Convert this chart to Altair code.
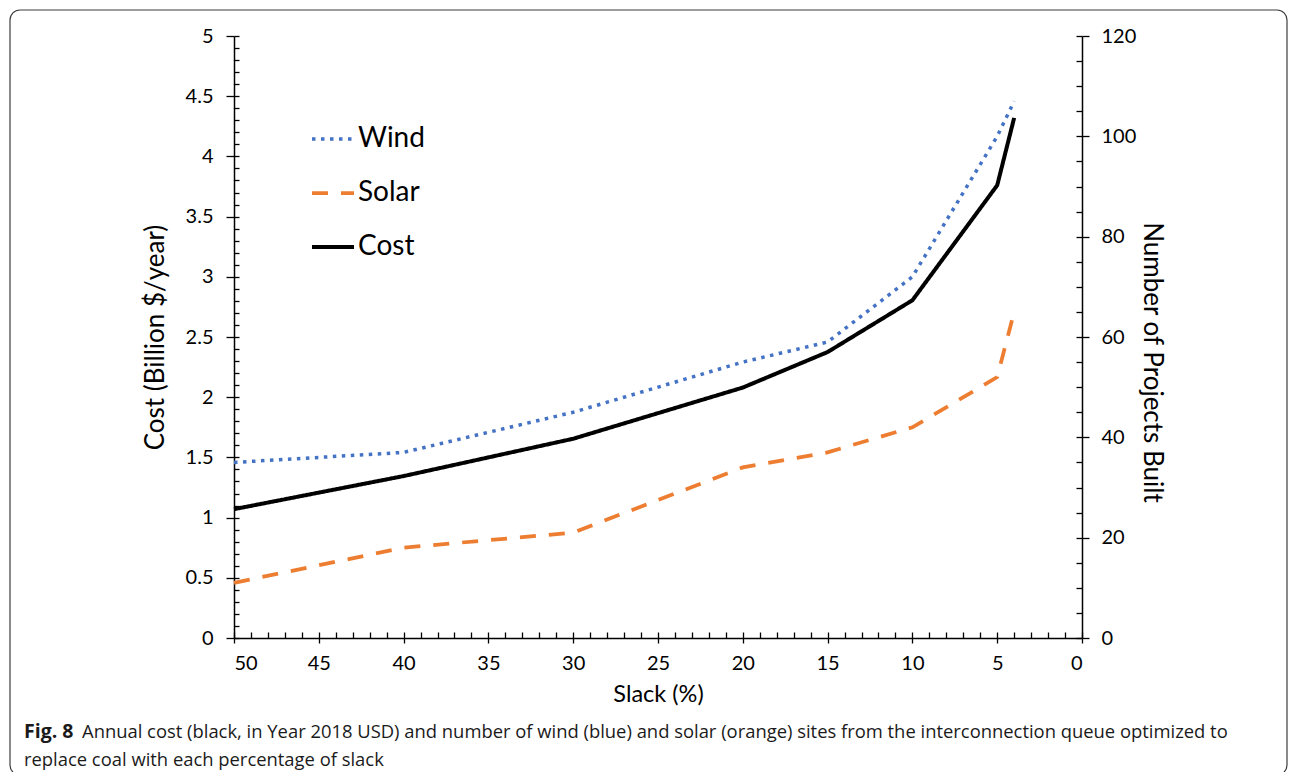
import altair as alt
import pandas as pd

# values
slack = [50, 40, 30, 20, 15, 10, 5, 4]
cost = [1.07, 1.345, 1.655, 2.08, 2.375, 2.805, 3.76, 4.32]   # billion $/year
wind = [35, 37, 45, 55, 59, 72, 100, 107]                      # projects
solar = [11, 18, 21, 34, 37, 42, 52, 65]                       # projects

series_names = ["Wind", "Solar", "Cost"]
series_colors = ["#4472C4", "#ED7D31", "#000000"]
series_dashes = [[3.5, 5.5], [16, 13], [1, 0]]
series_widths = [3.5, 4, 2.5]

slack_ticks = [0, 5, 10, 15, 20, 25, 30, 35, 40, 45, 50]
cost_ticks = [0, 0.5, 1, 1.5, 2, 2.5, 3, 3.5, 4, 4.5, 5]
proj_ticks = [0, 20, 40, 60, 80, 100, 120]
slack_minor = list(range(0, 51))
cost_minor = [round(i * 0.1, 1) for i in range(51)]
proj_minor = list(range(0, 121, 5))

caption_lead = "Fig. 8"
caption_line1 = ("Annual cost (black, in Year 2018 USD) and number of wind (blue) and solar "
                 "(orange) sites from the interconnection queue optimized to")
caption_line2 = "replace coal with each percentage of slack"

FONT = "Lato"
CAP_FONT = "Open Sans"
W, H = 848, 602

rows = []
for i, s in enumerate(slack):
    rows.append({"slack": s, "series": "Wind", "value": wind[i]})
    rows.append({"slack": s, "series": "Solar", "value": solar[i]})
    rows.append({"slack": s, "series": "Cost", "value": cost[i]})
df = pd.DataFrame(rows)
one = pd.DataFrame({"k": [0]})

x_scale = alt.Scale(domain=[0, 50], reverse=True, nice=False, zero=False)
cost_scale = alt.Scale(domain=[0, 5], nice=False)
proj_scale = alt.Scale(domain=[0, 120], nice=False)

legend = alt.Legend(orient="none", legendX=76, legendY=80, title=None,
                    symbolType="stroke", symbolSize=1764, symbolStrokeWidth=3.5,
                    labelFont=FONT, labelFontSize=28, labelColor="black",
                    labelOffset=2, rowPadding=17, padding=0)
color = alt.Color("series:N", scale=alt.Scale(domain=series_names, range=series_colors), legend=legend)
dash = alt.StrokeDash("series:N", scale=alt.Scale(domain=series_names, range=series_dashes), legend=legend)
stroke_w = alt.StrokeWidth("series:N", scale=alt.Scale(domain=series_names, range=series_widths), legend=None)

tick_style = dict(tickColor="black", tickWidth=1.3, grid=False, labelFont=FONT,
                  labelColor="black", titleFont=FONT, titleColor="black",
                  titleFontWeight="normal")
inner_style = dict(tickColor="black", tickWidth=1.3, grid=False, domain=False,
                   labels=False, title=None)

# Cost on the left axis, with the x axis labels
cost_line = alt.Chart(df).transform_filter(alt.datum.series == "Cost").mark_line(
    strokeCap="butt").encode(
    x=alt.X("slack:Q", scale=x_scale,
            axis=alt.Axis(orient="bottom", values=slack_ticks, tickSize=5, labelFontSize=20,
                          labelPadding=10, domainColor="black", domainWidth=1.5,
                          title="Slack (%)", titleFontSize=23.5, titleY=56,
                          titleBaseline="middle", **tick_style)),
    y=alt.Y("value:Q", scale=cost_scale,
            axis=alt.Axis(orient="left", values=cost_ticks, format="~g", tickSize=8,
                          labelFontSize=20, labelPadding=13, domainColor="black",
                          domainWidth=1.5, title="Cost (Billion $/year)", titleFontSize=26,
                          titleX=-79, titleBaseline="middle", **tick_style)),
    color=color, strokeDash=dash, strokeWidth=stroke_w,
)

# Wind and solar project counts on the right axis
proj_lines = alt.Chart(df).transform_filter(alt.datum.series != "Cost").mark_line(
    strokeCap="butt").encode(
    x=alt.X("slack:Q", scale=x_scale, axis=None),
    y=alt.Y("value:Q", scale=proj_scale,
            axis=alt.Axis(orient="right", values=proj_ticks, tickSize=7, labelFontSize=20,
                          labelPadding=12, domainColor="black", domainWidth=1.5,
                          title="Number of Projects Built", titleFontSize=26, titleAngle=90,
                          titleX=69, titleY=326, titleBaseline="middle", **tick_style)),
    color=color, strokeDash=dash, strokeWidth=stroke_w,
)

# inner ticks (left and bottom)
inner_left = alt.Chart(df).transform_filter(alt.datum.series == "Cost").mark_line(
    strokeOpacity=0).encode(
    x=alt.X("slack:Q", scale=x_scale,
            axis=alt.Axis(orient="bottom", values=slack_minor, tickSize=6, offset=-6, **inner_style)),
    y=alt.Y("value:Q", scale=cost_scale,
            axis=alt.Axis(orient="left", values=cost_minor, tickSize=5, offset=-5, **inner_style)),
)

# inner ticks (right)
inner_right = alt.Chart(df).transform_filter(alt.datum.series != "Cost").mark_line(
    strokeOpacity=0).encode(
    x=alt.X("slack:Q", scale=x_scale, axis=None),
    y=alt.Y("value:Q", scale=proj_scale,
            axis=alt.Axis(orient="right", values=proj_minor, tickSize=6, offset=-6, **inner_style)),
)

frame = alt.Chart(one).mark_rect(fillOpacity=0, stroke="#3c3c3c", strokeWidth=1.2,
                                 cornerRadius=10).encode(
    x=alt.value(-224), x2=alt.value(1053), y=alt.value(-26), y2=alt.value(739))

cap_lead = alt.Chart(one).mark_text(text=caption_lead, font=CAP_FONT, fontSize=19.5,
                                    fontWeight="bold", align="left", baseline="middle",
                                    color="#1a1a1a").encode(
    x=alt.value(-210), y=alt.value(696))
cap_1 = alt.Chart(one).mark_text(text=caption_line1, font=CAP_FONT, fontSize=18.4,
                                 align="left", baseline="middle", color="#1a1a1a").encode(
    x=alt.value(-152), y=alt.value(696))
cap_2 = alt.Chart(one).mark_text(text=caption_line2, font=CAP_FONT, fontSize=18.4,
                                 align="left", baseline="middle", color="#1a1a1a").encode(
    x=alt.value(-210), y=alt.value(724))

chart = alt.layer(
    frame, inner_left, inner_right, proj_lines, cost_line, cap_lead, cap_1, cap_2
).resolve_scale(
    x="independent", y="independent"
).resolve_axis(
    x="independent", y="independent"
).properties(
    width=W, height=H,
    padding={"left": 226, "top": 28, "right": 206, "bottom": 134},
    autosize=alt.AutoSizeParams(type="none"),
    background="white",
).configure_view(strokeOpacity=0)

chart.save("out.html", embed_options={"renderer": "svg", "actions": False})
